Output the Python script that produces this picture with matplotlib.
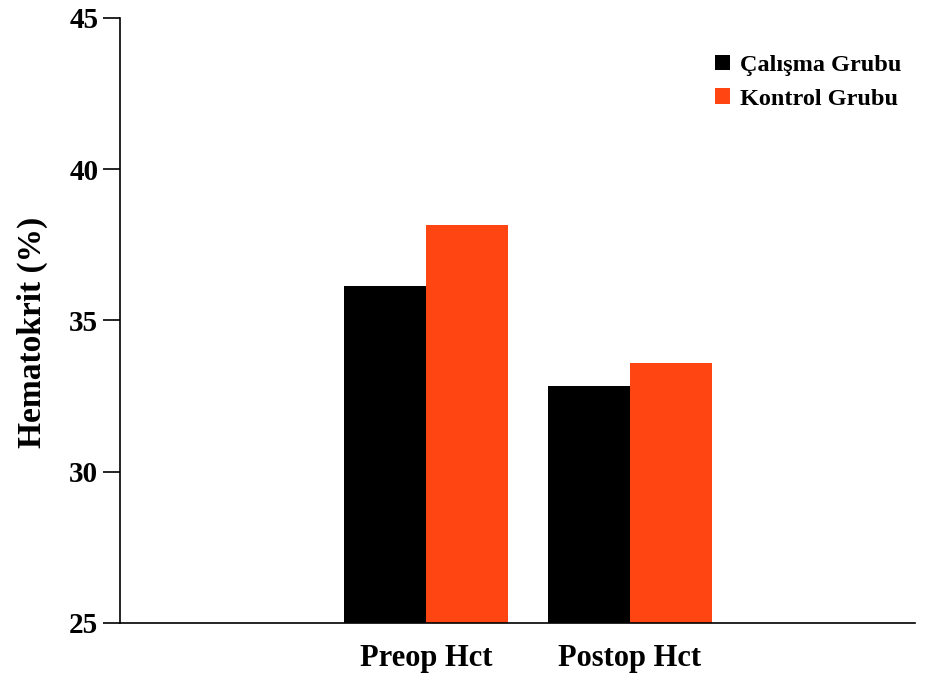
import matplotlib
matplotlib.use("Agg")
import matplotlib.pyplot as plt
import numpy as np

plt.rcParams['font.family'] = ['Liberation Serif', 'DejaVu Serif']
plt.rcParams['font.weight'] = 'bold'

categories = ['Preop Hct', 'Postop Hct']
calisma = [36.15, 32.85]
kontrol = [38.15, 33.6]
series_names = ['Çalışma Grubu', 'Kontrol Grubu']
yticks = [25, 30, 35, 40, 45]

fig = plt.figure(figsize=(9.35, 6.79), dpi=100)
ax = fig.add_axes([0.1283, 0.0825, 0.8503, 0.891])

x = np.arange(len(categories))
w = 0.4
ax.bar(x - w/2, calisma, w, color='black', label=series_names[0])
ax.bar(x + w/2, kontrol, w, color='#ff4511', label=series_names[1])

ax.set_xlim(-1.5, 2.397)
ax.set_ylim(25, 45)
ax.set_yticks(yticks)
ax.set_xticks(x)
ax.set_xticklabels(categories, fontsize=22)
ax.tick_params(axis='x', length=0, pad=15)
ax.tick_params(axis='y', length=12, width=1.2, labelsize=21, direction='out')
ax.spines['top'].set_visible(False)
ax.spines['right'].set_visible(False)
ax.spines['left'].set_linewidth(1.2)
ax.spines['bottom'].set_linewidth(1.2)
ax.set_ylabel('Hematokrit (%)', fontsize=24, fontweight='bold')
ax.yaxis.set_label_coords(-0.09, 0.48)

ax.legend(loc='upper right', bbox_to_anchor=(1.01, 0.975), frameon=False,
          fontsize=17.5, handlelength=0.6, handleheight=0.6, handletextpad=0.4,
          labelspacing=0.5)

fig.savefig('out.png', dpi=100)
